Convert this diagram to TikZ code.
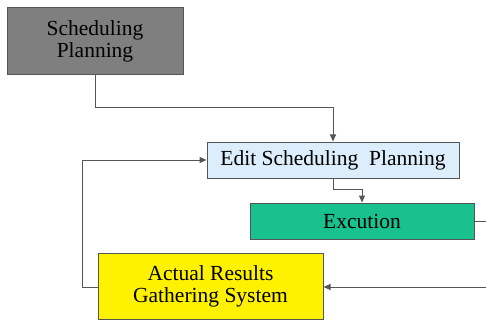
\documentclass[tikz,border=0pt]{standalone}
\usepackage{fontspec}
\setmainfont{Liberation Serif}
\usetikzlibrary{arrows.meta}
\definecolor{boxgray}{HTML}{7F7F7F}
\definecolor{editblue}{HTML}{DCEEFB}
\definecolor{exgreen}{HTML}{19C18F}
\definecolor{lineg}{HTML}{555555}
\begin{document}
\begin{tikzpicture}[x=1pt,y=-1pt,
  box/.style={draw=lineg,line width=1pt,inner sep=0pt,font=\rmfamily\fontsize{21.5}{23}\selectfont,align=center,text=black},
  conn/.style={draw=lineg,line width=1pt},
  arr/.style={conn,-{Triangle[length=7pt,width=6pt]}}]
\useasboundingbox (0,0) rectangle (486,323);
\clip (0,0) rectangle (486,323);
\node[box,fill=boxgray,minimum width=176pt,minimum height=67pt] (sp) at (95,41.5) {Scheduling\\[-1pt]Planning};
\node[box,fill=editblue,minimum width=252pt,minimum height=36pt] (ed) at (333,160) {Edit Scheduling\ \ Planning};
\node[box,fill=exgreen,minimum width=224pt,minimum height=36pt] (ex) at (362,221) {Excution};
\node[box,fill=yellow,minimum width=225pt,minimum height=66pt] (ar) at (210.5,286.5) {Actual Results\\[-1pt]Gathering System};
\coordinate (c1) at (95,108);
\coordinate (c2) at (333,108);
\coordinate (c3) at (333,189);
\coordinate (c4) at (362,189);
\coordinate (c5) at (490,221);
\coordinate (c6) at (490,287);
\coordinate (c7) at (82,287);
\coordinate (c8) at (82,160);
\draw[arr] (sp.south -| c1) -- (c1) -- (c2) -- (ed.north);
\draw[arr] (ed.south -| c3) -- (c3) -- (c4) -- (ex.north -| c4);
\draw[arr] (ex.east) -- (c5) -- (c6) -- (ar.east |- c6);
\draw[arr] (ar.west |- c7) -- (c7) -- (c8) -- (ed.west);
\end{tikzpicture}
\end{document}
